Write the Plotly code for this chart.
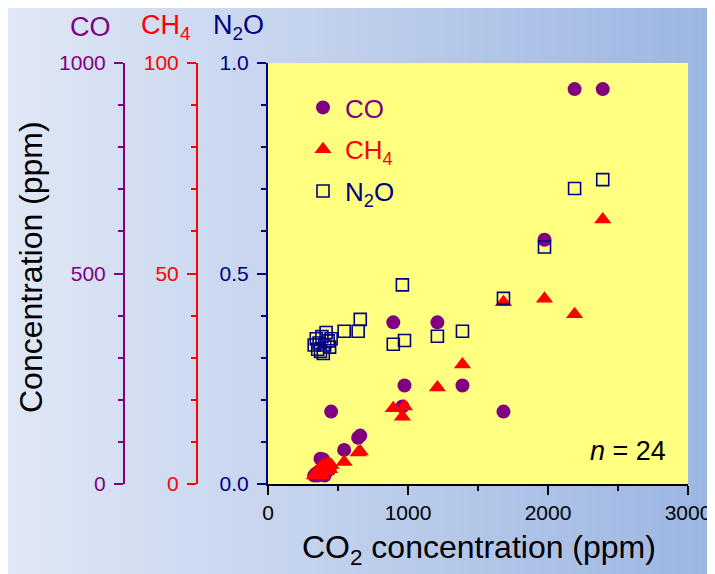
import plotly.graph_objects as go

# ---- data ----
co2_ppm = [2391, 2190, 1975, 1682, 1389, 1210, 895, 975, 960, 659, 644, 544, 451,
           330, 345, 355, 365, 375, 385, 395, 405, 415, 430, 440]
co_ppm = [938, 938, 580, 172, 234, 384, 384, 234, 184, 115, 110, 81, 172,
          20, 25, 20, 30, 60, 25, 58, 20, 30, 40, 35]
ch4_ppm = [62.8, 40.3, 44.0, 43.2, 28.4, 22.9, 18.0, 18.4, 16.0, 7.7, 7.5, 5.2, 4.5,
           2.0, 2.5, 3.0, 3.5, 4.0, 2.0, 4.5, 3.0, 4.0, 5.0, 3.5]
n2o_ppm = [0.723, 0.702, 0.563, 0.441, 0.363, 0.351, 0.332, 0.341, 0.473, 0.391, 0.363, 0.363, 0.345,
           0.33, 0.345, 0.32, 0.335, 0.315, 0.35, 0.31, 0.33, 0.36, 0.34, 0.325]
n_samples = 24

x_ticks = [0, 1000, 2000, 3000]
co_ticks = [0, 500, 1000]
ch4_ticks = [0, 50, 100]
n2o_ticks = [0.0, 0.5, 1.0]

PURPLE = "#800080"
RED = "#ff0000"
NAVY = "#000080"
FONT = "Liberation Sans, Arial, sans-serif"

W, H = 715, 574
OFF = 8  # page body margin: figure origin sits at (8, 8) on screen
ML, MR, MT, MB = 20, 35, 55, 98
PW, PH = W - ML - MR, H - MT - MB


def px2x(sx):
    return (sx - OFF - ML) / PW


def px2y(sy):
    return (H - MB - (sy - OFF)) / PH


fig = go.Figure()
fig.add_trace(go.Scatter(
    x=co2_ppm, y=co_ppm, yaxis="y", mode="markers", cliponaxis=False,
    name='<span style="color:%s">CO</span>' % PURPLE,
    marker=dict(symbol="circle", size=14, color=PURPLE), legendgroup="a"))
fig.add_trace(go.Scatter(
    x=co2_ppm, y=ch4_ppm, yaxis="y2", mode="markers", cliponaxis=False,
    name='<span style="color:%s">CH<sub>4</sub></span>' % RED,
    marker=dict(symbol="triangle-up", size=15, color=RED), legendgroup="b"))
fig.add_trace(go.Scatter(
    x=co2_ppm, y=n2o_ppm, yaxis="y3", mode="markers", cliponaxis=False,
    name='<span style="color:%s">N<sub>2</sub>O</span>' % NAVY,
    marker=dict(symbol="square-open", size=12, color=NAVY, line=dict(width=1.6, color=NAVY)),
    legendgroup="c"))

# background gradient strips over the whole figure
shapes = []
n_strips = 90
c0 = (224, 231, 245)
c1 = (155, 181, 226)
for i in range(n_strips):
    t = i / (n_strips - 1)
    col = tuple(round(c0[k] + (c1[k] - c0[k]) * t) for k in range(3))
    a = OFF + W * i / n_strips
    b = OFF + W * (i + 1) / n_strips + 0.6
    shapes.append(dict(type="rect", xref="paper", yref="paper", layer="below",
                       x0=px2x(a), x1=px2x(b), y0=px2y(H + OFF), y1=px2y(OFF),
                       fillcolor="rgb(%d,%d,%d)" % col, line=dict(width=0)))
# yellow plotting area
shapes.append(dict(type="rect", xref="x domain", yref="y domain", layer="below",
                   x0=0, x1=1, y0=0, y1=1, fillcolor="#ffff80", line=dict(width=0)))

common_y = dict(showgrid=False, zeroline=False, showline=True, linewidth=2,
                ticks="outside", ticklen=9, tickwidth=2, ticklabelstandoff=4)

fig.update_layout(
    width=W, height=H,
    margin=dict(l=ML, r=MR, t=MT, b=MB),
    paper_bgcolor="#dfe6f4",
    plot_bgcolor="#ffff80",
    font=dict(family=FONT, size=21, color="black"),
    shapes=shapes,
    xaxis=dict(domain=[px2x(268), 1], range=[0, 3000], tickvals=x_ticks,
               showgrid=False, zeroline=False, showline=True, linecolor="black", linewidth=2,
               ticks="outside", ticklen=9, tickwidth=2, tickcolor="black",
               minor=dict(dtick=500, ticks="outside", ticklen=5, tickwidth=2, tickcolor="black"),
               tickfont=dict(size=21, color="black"), anchor="y3"),
    yaxis=dict(common_y, range=[0, 1000], tickvals=co_ticks, anchor="free", position=px2x(124),
               linecolor=PURPLE, tickcolor=PURPLE, tickfont=dict(size=21, color=PURPLE),
               minor=dict(dtick=100, ticks="outside", ticklen=5, tickwidth=2, tickcolor=PURPLE)),
    yaxis2=dict(common_y, range=[0, 100], tickvals=ch4_ticks, anchor="free", position=px2x(197),
                overlaying="y", linecolor=RED, tickcolor=RED, tickfont=dict(size=21, color=RED),
                minor=dict(dtick=10, ticks="outside", ticklen=5, tickwidth=2, tickcolor=RED)),
    yaxis3=dict(common_y, range=[0, 1], tickvals=n2o_ticks, tickformat=".1f", anchor="x",
                overlaying="y", linecolor=NAVY, tickcolor=NAVY, tickfont=dict(size=21, color=NAVY),
                minor=dict(dtick=0.1, ticks="outside", ticklen=5, tickwidth=2, tickcolor=NAVY)),
    showlegend=True,
    legend=dict(x=px2x(301), y=px2y(84), xanchor="left", yanchor="top",
                bgcolor="rgba(0,0,0,0)", font=dict(size=26), tracegroupgap=5,
                itemwidth=34, itemclick=False),
    annotations=[
        dict(text="CO", xref="paper", yref="paper", x=px2x(113), y=px2y(27),
             xanchor="right", yanchor="middle", showarrow=False,
             font=dict(size=27, color=PURPLE)),
        dict(text="CH<sub>4</sub>", xref="paper", yref="paper", x=px2x(193), y=px2y(27),
             xanchor="right", yanchor="middle", showarrow=False,
             font=dict(size=27, color=RED)),
        dict(text="N<sub>2</sub>O", xref="paper", yref="paper", x=px2x(266), y=px2y(27),
             xanchor="right", yanchor="middle", showarrow=False,
             font=dict(size=27, color=NAVY)),
        dict(text="Concentration (ppm)", xref="paper", yref="paper", x=px2x(31), y=px2y(267),
             xanchor="center", yanchor="middle", textangle=-90, showarrow=False,
             font=dict(size=32, color="black")),
        dict(text="CO<sub>2</sub> concentration (ppm)", xref="paper", yref="paper",
             x=px2x(479), y=px2y(549), xanchor="center", yanchor="middle", showarrow=False,
             font=dict(size=32, color="black")),
        dict(text="<i>n</i> = %d" % n_samples, xref="paper", yref="paper",
             x=px2x(668), y=px2y(451), xanchor="right", yanchor="middle", showarrow=False,
             font=dict(size=27, color="black")),
    ],
)

fig.write_html("out.html")
